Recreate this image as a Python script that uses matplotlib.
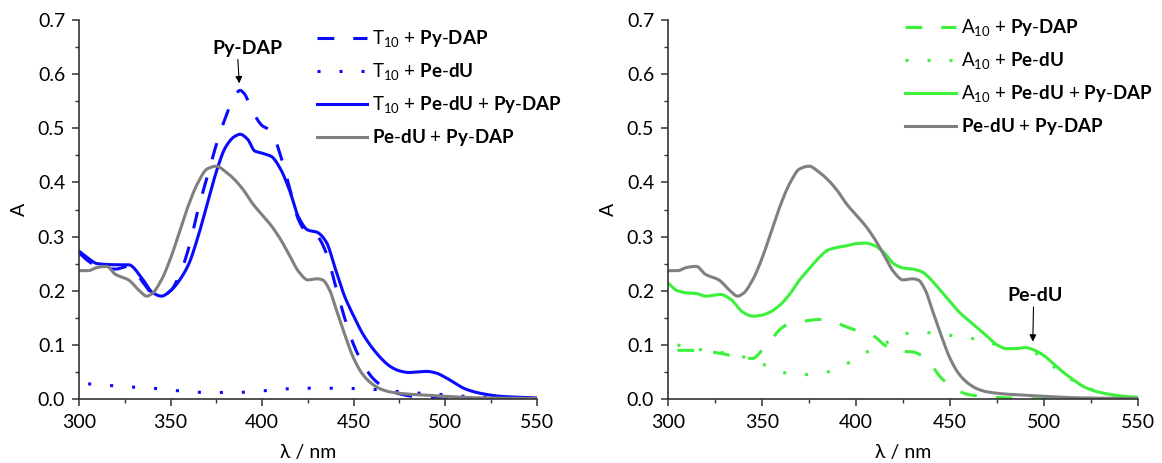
import numpy as np
import matplotlib
matplotlib.use('Agg')
import matplotlib.pyplot as plt
from matplotlib.ticker import MultipleLocator, FormatStrFormatter

plt.rcParams['font.family'] = ['Lato', 'DejaVu Sans']
plt.rcParams['mathtext.fontset'] = 'custom'
plt.rcParams['mathtext.rm'] = 'Lato'
plt.rcParams['mathtext.bf'] = 'Lato:bold'

# ---- left panel data (T10) ----
wl_t_py = [300, 305, 310, 320, 327, 335, 340, 345, 350, 355, 360, 365, 370, 375, 380, 385, 388,
           390, 395, 400, 405, 410, 415, 420, 425, 430, 435, 440, 445, 450, 455, 460, 465, 470,
           480, 490, 500, 550]
a_t_py = [0.27, 0.255, 0.245, 0.24, 0.245, 0.215, 0.195, 0.19, 0.2, 0.23, 0.28, 0.35, 0.41, 0.47,
          0.52, 0.56, 0.57, 0.565, 0.53, 0.505, 0.495, 0.45, 0.39, 0.33, 0.305, 0.30, 0.27, 0.21,
          0.15, 0.10, 0.065, 0.04, 0.025, 0.015, 0.006, 0.002, 0.0, 0.0]

wl_t_pe = [305, 320, 340, 355, 370, 385, 400, 420, 435, 455, 470, 480, 490, 500, 510, 520, 550]
a_t_pe = [0.028, 0.024, 0.02, 0.015, 0.012, 0.012, 0.015, 0.02, 0.02, 0.019, 0.015, 0.012, 0.01,
          0.008, 0.005, 0.003, 0.001]

wl_t_all = [300, 305, 310, 320, 327, 335, 340, 345, 350, 355, 360, 365, 370, 375, 380, 385, 388,
            392, 396, 400, 405, 410, 415, 420, 425, 430, 435, 440, 445, 450, 455, 460, 465, 470,
            475, 480, 485, 490, 495, 500, 505, 510, 515, 520, 530, 550]
a_t_all = [0.273, 0.26, 0.25, 0.248, 0.248, 0.22, 0.197, 0.19, 0.2, 0.22, 0.25, 0.30, 0.36, 0.42,
           0.465, 0.485, 0.489, 0.48, 0.458, 0.454, 0.448, 0.425, 0.385, 0.335, 0.312, 0.308, 0.29,
           0.24, 0.19, 0.153, 0.12, 0.095, 0.075, 0.06, 0.052, 0.049, 0.05, 0.051, 0.048, 0.04,
           0.03, 0.02, 0.014, 0.01, 0.005, 0.002]

# ---- shared reference (no oligo) ----
wl_ref = [300, 305, 310, 315, 320, 327, 333, 337, 340, 345, 350, 355, 360, 365, 370, 375, 380,
          385, 390, 395, 400, 405, 410, 415, 420, 425, 430, 433, 437, 440, 445, 450, 455, 460,
          465, 470, 480, 490, 500, 520, 550]
a_ref = [0.237, 0.237, 0.243, 0.245, 0.23, 0.22, 0.2, 0.19, 0.195, 0.22, 0.26, 0.31, 0.36, 0.40,
         0.425, 0.43, 0.42, 0.405, 0.385, 0.36, 0.34, 0.32, 0.295, 0.265, 0.235, 0.22, 0.222,
         0.22, 0.2, 0.17, 0.12, 0.075, 0.045, 0.028, 0.018, 0.013, 0.009, 0.007, 0.005, 0.002,
         0.001]

# ---- right panel data (A10) ----
wl_a_py = [305, 310, 320, 330, 340, 345, 350, 355, 360, 365, 375, 380, 385, 390, 395, 400, 405,
           410, 415, 420, 425, 430, 435, 440, 445, 450, 455, 460, 470, 480, 500, 550]
a_a_py = [0.09, 0.09, 0.088, 0.083, 0.075, 0.075, 0.09, 0.11, 0.13, 0.14, 0.145, 0.147, 0.145,
          0.14, 0.133, 0.127, 0.122, 0.115, 0.10, 0.092, 0.088, 0.087, 0.08, 0.063, 0.04, 0.025,
          0.014, 0.008, 0.004, 0.002, 0.0, 0.0]

wl_a_pe = [305, 310, 320, 330, 340, 350, 355, 360, 370, 375, 385, 395, 405, 410, 420, 425, 435,
           445, 455, 465, 475, 485, 495, 505, 515, 525, 535, 550]
a_a_pe = [0.1, 0.095, 0.09, 0.085, 0.078, 0.065, 0.058, 0.05, 0.045, 0.045, 0.05, 0.065, 0.085,
          0.095, 0.11, 0.12, 0.123, 0.12, 0.115, 0.11, 0.1, 0.093, 0.085, 0.06, 0.035, 0.018,
          0.008, 0.003]

wl_a_all = [300, 305, 310, 315, 320, 328, 333, 340, 345, 350, 355, 360, 365, 370, 375, 380, 385,
            390, 395, 400, 405, 410, 415, 420, 425, 430, 435, 440, 445, 450, 455, 460, 465, 470,
            475, 480, 485, 490, 495, 500, 505, 510, 515, 520, 525, 530, 540, 550]
a_a_all = [0.214, 0.2, 0.196, 0.195, 0.19, 0.193, 0.185, 0.16, 0.153, 0.155, 0.162, 0.175, 0.195,
           0.22, 0.24, 0.26, 0.275, 0.28, 0.283, 0.287, 0.288, 0.283, 0.27, 0.25, 0.242, 0.24,
           0.235, 0.22, 0.2, 0.18, 0.16, 0.145, 0.13, 0.115, 0.1, 0.093, 0.093, 0.095, 0.09, 0.08,
           0.065, 0.05, 0.037, 0.025, 0.017, 0.012, 0.006, 0.003]

blue = '#0a0aff'
green = '#3cf03c'
gray = '#808080'
lw = 2.2
fs = 14
fs_leg = 13.5


def smooth(x, y, n=500):
    # monotone cubic (Fritsch-Carlson) through the read points
    x = np.asarray(x, float)
    y = np.asarray(y, float)
    h = np.diff(x)
    d = np.diff(y) / h
    m = np.zeros_like(y)
    m[0], m[-1] = d[0], d[-1]
    for i in range(1, len(x) - 1):
        if d[i - 1] * d[i] > 0:
            w1 = 2 * h[i] + h[i - 1]
            w2 = h[i] + 2 * h[i - 1]
            m[i] = (w1 + w2) / (w1 / d[i - 1] + w2 / d[i])
    xs = np.linspace(x[0], x[-1], n)
    k = np.clip(np.searchsorted(x, xs) - 1, 0, len(x) - 2)
    t = (xs - x[k]) / h[k]
    h00 = 2 * t**3 - 3 * t**2 + 1
    h10 = t**3 - 2 * t**2 + t
    h01 = -2 * t**3 + 3 * t**2
    h11 = t**3 - t**2
    ys = h00 * y[k] + h10 * h[k] * m[k] + h01 * y[k + 1] + h11 * h[k] * m[k + 1]
    return xs, ys


fig = plt.figure(figsize=(11.62, 4.63), dpi=100)
ax1 = fig.add_axes([0.068, 0.1382, 0.394, 0.8186])
ax2 = fig.add_axes([0.5749, 0.1382, 0.4045, 0.8186])

dash = (5.5, 6.2)
dot = (1, 6.2)

ax1.plot(*smooth(wl_t_py, a_t_py), color=blue, lw=lw, dashes=dash,
         label='T$_{10}$ + $\\mathbf{Py}$-$\\mathbf{DAP}$')
ax1.plot(*smooth(wl_t_pe, a_t_pe), color=blue, lw=lw, dashes=dot,
         label='T$_{10}$ + $\\mathbf{Pe}$-$\\mathbf{dU}$')
ax1.plot(*smooth(wl_t_all, a_t_all), color=blue, lw=lw,
         label='T$_{10}$ + $\\mathbf{Pe}$-$\\mathbf{dU}$ + $\\mathbf{Py}$-$\\mathbf{DAP}$')
ax1.plot(*smooth(wl_ref, a_ref), color=gray, lw=lw,
         label='$\\mathbf{Pe}$-$\\mathbf{dU}$ + $\\mathbf{Py}$-$\\mathbf{DAP}$')

ax2.plot(*smooth(wl_a_py, a_a_py), color=green, lw=lw, dashes=dash,
         label='A$_{10}$ + $\\mathbf{Py}$-$\\mathbf{DAP}$')
ax2.plot(*smooth(wl_a_pe, a_a_pe), color=green, lw=lw, dashes=dot,
         label='A$_{10}$ + $\\mathbf{Pe}$-$\\mathbf{dU}$')
ax2.plot(*smooth(wl_a_all, a_a_all), color=green, lw=lw,
         label='A$_{10}$ + $\\mathbf{Pe}$-$\\mathbf{dU}$ + $\\mathbf{Py}$-$\\mathbf{DAP}$')
ax2.plot(*smooth(wl_ref, a_ref), color=gray, lw=lw,
         label='$\\mathbf{Pe}$-$\\mathbf{dU}$ + $\\mathbf{Py}$-$\\mathbf{DAP}$')

ax1.annotate('Py-DAP', xy=(387.5, 0.583), xytext=(392, 0.648), ha='center', va='center',
             fontsize=fs, fontweight='bold',
             arrowprops=dict(arrowstyle='-|>', color='black', lw=0.8, mutation_scale=10,
                             shrinkA=0, shrinkB=0, relpos=(0.36, 0)))
ax2.annotate('Pe-dU', xy=(494, 0.106), xytext=(495, 0.191), ha='center', va='center',
             fontsize=fs, fontweight='bold',
             arrowprops=dict(arrowstyle='-|>', color='black', lw=0.8, mutation_scale=10,
                             shrinkA=0, shrinkB=0, relpos=(0.48, 0)))

for ax, anchor in ((ax1, (0.5025, 0.997)), (ax2, (0.489, 1.026))):
    ax.set_xlim(300, 550)
    ax.set_ylim(0, 0.7)
    ax.xaxis.set_major_locator(MultipleLocator(50))
    ax.xaxis.set_minor_locator(MultipleLocator(25))
    ax.yaxis.set_major_locator(MultipleLocator(0.1))
    ax.yaxis.set_minor_locator(MultipleLocator(0.05))
    ax.yaxis.set_major_formatter(FormatStrFormatter('%.1f'))
    for s in ('top', 'right'):
        ax.spines[s].set_visible(False)
    for s in ('left', 'bottom'):
        ax.spines[s].set_color('#333333')
        ax.spines[s].set_linewidth(1.2)
    ax.tick_params(which='major', direction='out', length=5, width=1.1, color='#333333',
                   labelsize=fs)
    ax.tick_params(axis='x', which='major', pad=6)
    ax.tick_params(axis='y', which='major', pad=5)
    ax.tick_params(which='minor', direction='out', length=3, width=1.0, color='#333333')
    ax.set_xlabel('λ / nm', fontsize=fs, labelpad=9)
    ax.set_ylabel('A', fontsize=fs, labelpad=7)
    ax.legend(loc='upper left', bbox_to_anchor=anchor, frameon=False, fontsize=fs_leg,
              handlelength=2.7, handletextpad=0.25, labelspacing=0.62, borderaxespad=0)

fig.savefig('out.png', dpi=100)
